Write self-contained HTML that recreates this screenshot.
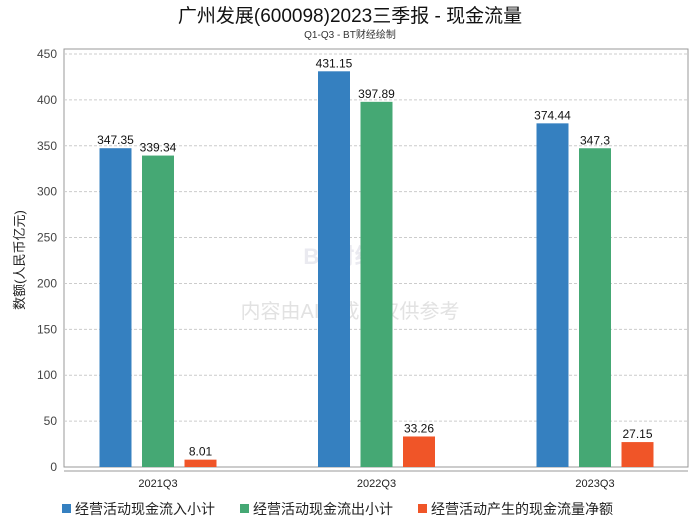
<!DOCTYPE html>
<html><head><meta charset="utf-8"><style>
body{margin:0;background:#fff;}
svg text{font-family:"Liberation Sans","Noto Sans CJK SC",sans-serif;}
</style></head><body>
<svg id="c" width="700" height="524" xmlns="http://www.w3.org/2000/svg">
<text x="350" y="22" text-anchor="middle" font-size="19" fill="#111">广州发展(600098)2023三季报 - 现金流量</text>
<text x="350" y="38" text-anchor="middle" font-size="10" fill="#333">Q1-Q3 - BT财经绘制</text>
<rect x="64" y="49" width="624" height="418" fill="none" stroke="#999"/>
<g id="grid"></g>
<text x="350" y="318" text-anchor="middle" font-size="20" fill="#e2e2e2">内容由AI生成，仅供参考</text>
<text x="340" y="264" text-anchor="middle" font-size="22" fill="#eaeaf0" font-weight="bold">BT财经</text>
<g id="bars"></g>
<text x="0" y="0" transform="translate(24,260) rotate(-90)" text-anchor="middle" font-size="13" fill="#222">数额(人民币亿元)</text>
<g id="legend"></g>
</svg>
<script>
const categories=["2021Q3","2022Q3","2023Q3"];
const seriesNames=["经营活动现金流入小计","经营活动现金流出小计","经营活动产生的现金流量净额"];
const inflow=[347.35,431.15,374.44];
const outflow=[339.34,397.89,347.3];
const net=[8.01,33.26,27.15];
const yTicks=[0,50,100,150,200,250,300,350,400,450];
const colors=["#3580c0","#45a874","#f05528"];
const NS="http://www.w3.org/2000/svg";
const y=v=>467-v*(413/450);
const xc=i=>158+i*218.5;
function mk(t,a,p){const e=document.createElementNS(NS,t);for(const k in a)e.setAttribute(k,a[k]);p.appendChild(e);return e;}
const grid=document.getElementById('grid');
yTicks.forEach(t=>{
  if(t>0){const l=mk('line',{x1:64,x2:688,y1:y(t),y2:y(t),stroke:'#ccc','stroke-dasharray':'3,2'},grid);
  
  }
  const tx=mk('text',{x:57,y:y(t)+4,'text-anchor':'end','font-size':12,fill:'#444'},grid);tx.textContent=t;
  
  
});
mk('line',{x1:64,x2:688,y1:471,y2:471,stroke:'#999'},grid);
const bars=document.getElementById('bars');
const series=[inflow,outflow,net];
categories.forEach((c,i)=>{
  const tx=mk('text',{x:xc(i),y:487,'text-anchor':'middle','font-size':11,fill:'#222'},bars);tx.textContent=c;
  
  
  series.forEach((s,j)=>{
    const cx=xc(i)+(j-1)*42.5;
    const r=mk('rect',{x:cx-16,y:y(s[i]),width:32,height:467-y(s[i]),fill:colors[j]},bars);
    
    
    const v=mk('text',{x:cx,y:y(s[i])-4,'text-anchor':'middle','font-size':12,fill:'#111'},bars);v.textContent=s[i];
    
    
  });
});
const lg=document.getElementById('legend');
const lx=[62,240,418];
seriesNames.forEach((n,j)=>{
  const r=mk('rect',{x:lx[j],y:504,width:9,height:9,fill:colors[j]},lg);
  
  
  const t=mk('text',{x:lx[j]+13,y:514,'font-size':14,fill:'#222'},lg);t.textContent=n;
  
  
});
</script>
</body></html>
